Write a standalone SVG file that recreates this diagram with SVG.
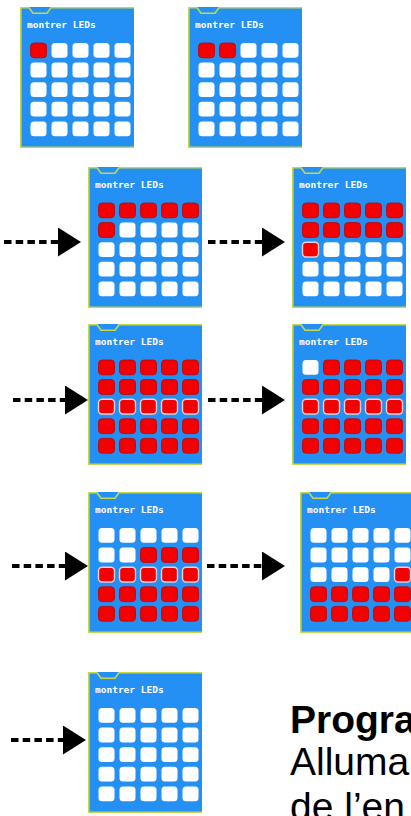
<svg xmlns="http://www.w3.org/2000/svg" width="411" height="816" viewBox="0 0 411 816">
<style>
.body{fill:#2590f4}
.edge{fill:none;stroke:#c3d94b;stroke-width:1.6}
.lbl{font-family:"DejaVu Sans Mono","Liberation Mono",monospace;font-weight:bold;font-size:9.5px;fill:#fff}
.w{fill:#fff}
.r{fill:#f50000;stroke:#c20000;stroke-width:.8}
.h{fill:#f50000;stroke:#eccfd2;stroke-width:1.4}
.conn line{stroke:#000;stroke-width:4;stroke-dasharray:7.5 4.2}
.txt{font-family:"Liberation Sans",Arial,sans-serif;font-size:39px;fill:#000}
</style>
<defs>
<g id="frame">
<rect class="body" width="114" height="141"/>
<path class="edge" d="M114 0.8 H31 L27 6.2 H13 L9 0.8 H0.8 V140.2 H114"/>
</g>
<rect id="L" width="16" height="14.8" rx="3.5"/>
<g id="row"><use href="#L" x="10.5"/><use href="#L" x="31.5"/><use href="#L" x="52.5"/><use href="#L" x="73.5"/><use href="#L" x="94.5"/></g>
<marker id="head" markerUnits="userSpaceOnUse" viewBox="0 0 23 29" markerWidth="23" markerHeight="29" refX="0" refY="14.5" orient="auto"><path d="M0 0 L23 14.5 L0 29 Z" fill="#000"/></marker>
</defs>

<g id="connectors" class="conn">
<line x1="4" y1="242" x2="58" y2="242" marker-end="url(#head)"/>
<line x1="208" y1="242" x2="262" y2="242" marker-end="url(#head)"/>
<line x1="13" y1="400" x2="65" y2="400" marker-end="url(#head)"/>
<line x1="208" y1="400" x2="262" y2="400" marker-end="url(#head)"/>
<line x1="12" y1="566" x2="65" y2="566" marker-end="url(#head)"/>
<line x1="207" y1="566" x2="262" y2="566" marker-end="url(#head)"/>
<line x1="11" y1="740" x2="63" y2="740" marker-end="url(#head)"/>
</g>

<g id="b1" transform="translate(20,7)">
<use href="#frame"/><text class="lbl" x="7" y="21">montrer LEDs</text>
<use href="#L" class="r" x="10.5" y="36"/><use href="#L" class="w" x="31.5" y="36"/><use href="#L" class="w" x="52.5" y="36"/><use href="#L" class="w" x="73.5" y="36"/><use href="#L" class="w" x="94.5" y="36"/>
<use href="#row" class="w" y="55.6"/><use href="#row" class="w" y="75.2"/><use href="#row" class="w" y="94.8"/><use href="#row" class="w" y="114.4"/>
</g>

<g id="b2" transform="translate(188,7)">
<use href="#frame"/><text class="lbl" x="7" y="21">montrer LEDs</text>
<use href="#L" class="r" x="10.5" y="36"/><use href="#L" class="r" x="31.5" y="36"/><use href="#L" class="w" x="52.5" y="36"/><use href="#L" class="w" x="73.5" y="36"/><use href="#L" class="w" x="94.5" y="36"/>
<use href="#row" class="w" y="55.6"/><use href="#row" class="w" y="75.2"/><use href="#row" class="w" y="94.8"/><use href="#row" class="w" y="114.4"/>
</g>

<g id="b3" transform="translate(88,167)">
<use href="#frame"/><text class="lbl" x="7" y="21">montrer LEDs</text>
<use href="#row" class="r" y="36"/>
<use href="#L" class="r" x="10.5" y="55.6"/><use href="#L" class="w" x="31.5" y="55.6"/><use href="#L" class="w" x="52.5" y="55.6"/><use href="#L" class="w" x="73.5" y="55.6"/><use href="#L" class="w" x="94.5" y="55.6"/>
<use href="#row" class="w" y="75.2"/><use href="#row" class="w" y="94.8"/><use href="#row" class="w" y="114.4"/>
</g>

<g id="b4" transform="translate(292,167)">
<use href="#frame"/><text class="lbl" x="7" y="21">montrer LEDs</text>
<use href="#row" class="r" y="36"/><use href="#row" class="r" y="55.6"/>
<use href="#L" class="h" x="10.5" y="75.2"/><use href="#L" class="w" x="31.5" y="75.2"/><use href="#L" class="w" x="52.5" y="75.2"/><use href="#L" class="w" x="73.5" y="75.2"/><use href="#L" class="w" x="94.5" y="75.2"/>
<use href="#row" class="w" y="94.8"/><use href="#row" class="w" y="114.4"/>
</g>

<g id="b5" transform="translate(88,324)">
<use href="#frame"/><text class="lbl" x="7" y="21">montrer LEDs</text>
<use href="#row" class="r" y="36"/><use href="#row" class="r" y="55.6"/><use href="#row" class="h" y="75.2"/><use href="#row" class="r" y="94.8"/><use href="#row" class="r" y="114.4"/>
</g>

<g id="b6" transform="translate(292,324)">
<use href="#frame"/><text class="lbl" x="7" y="21">montrer LEDs</text>
<use href="#L" class="w" x="10.5" y="36"/><use href="#L" class="r" x="31.5" y="36"/><use href="#L" class="r" x="52.5" y="36"/><use href="#L" class="r" x="73.5" y="36"/><use href="#L" class="r" x="94.5" y="36"/>
<use href="#row" class="r" y="55.6"/><use href="#row" class="h" y="75.2"/><use href="#row" class="r" y="94.8"/><use href="#row" class="r" y="114.4"/>
</g>

<g id="b7" transform="translate(88,492)">
<use href="#frame"/><text class="lbl" x="7" y="21">montrer LEDs</text>
<use href="#row" class="w" y="36"/>
<use href="#L" class="w" x="10.5" y="55.6"/><use href="#L" class="w" x="31.5" y="55.6"/><use href="#L" class="r" x="52.5" y="55.6"/><use href="#L" class="r" x="73.5" y="55.6"/><use href="#L" class="r" x="94.5" y="55.6"/>
<use href="#row" class="h" y="75.2"/><use href="#row" class="r" y="94.8"/><use href="#row" class="r" y="114.4"/>
</g>

<g id="b8" transform="translate(300,492)">
<use href="#frame"/><text class="lbl" x="7" y="21">montrer LEDs</text>
<use href="#row" class="w" y="36"/><use href="#row" class="w" y="55.6"/>
<use href="#L" class="w" x="10.5" y="75.2"/><use href="#L" class="w" x="31.5" y="75.2"/><use href="#L" class="w" x="52.5" y="75.2"/><use href="#L" class="w" x="73.5" y="75.2"/><use href="#L" class="h" x="94.5" y="75.2"/>
<use href="#row" class="r" y="94.8"/><use href="#row" class="r" y="114.4"/>
</g>

<g id="b9" transform="translate(88,672)">
<use href="#frame"/><text class="lbl" x="7" y="21">montrer LEDs</text>
<use href="#row" class="w" y="36"/><use href="#row" class="w" y="55.6"/><use href="#row" class="w" y="75.2"/><use href="#row" class="w" y="94.8"/><use href="#row" class="w" y="114.4"/>
</g>

<g id="caption" class="txt">
<text x="290" y="733" font-weight="bold">Progra</text>
<text x="290" y="775">Alluma</text>
<text x="290" y="820">de l’en</text>
</g>
</svg>
